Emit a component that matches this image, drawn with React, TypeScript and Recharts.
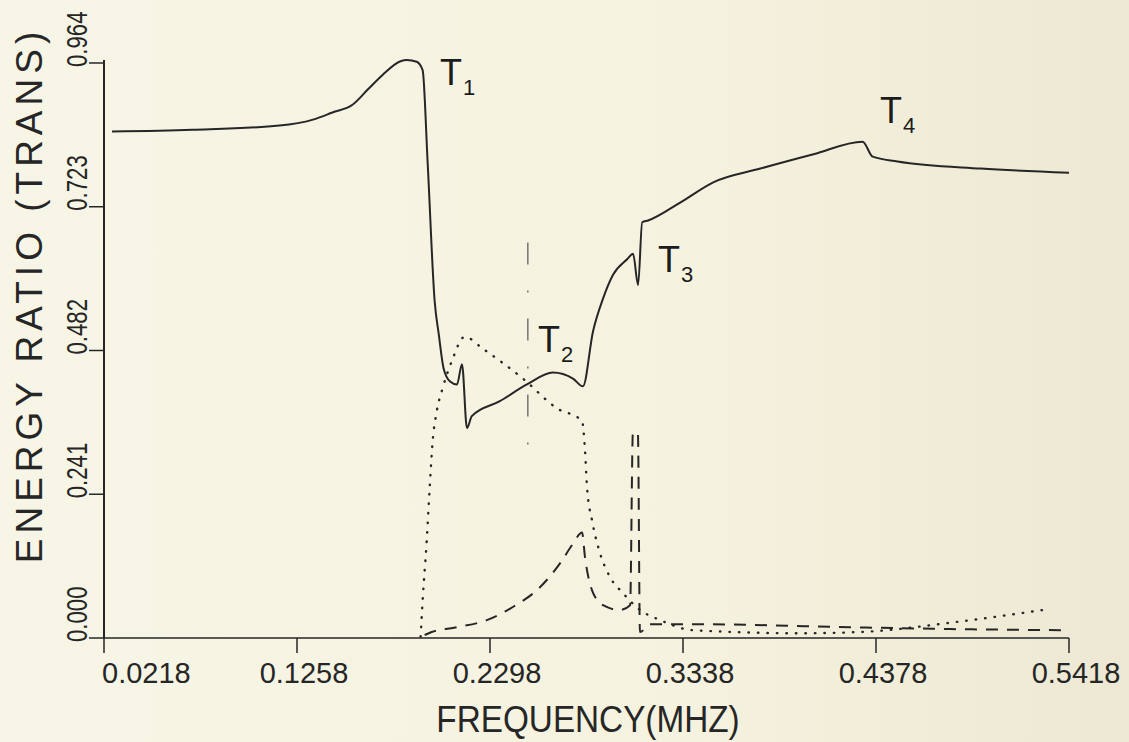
import { LineChart, Line, XAxis, YAxis, ReferenceDot } from 'recharts'

// frequency (MHz) ticks and energy-ratio ticks as printed on the plot
const freqTicks = [0.0218, 0.1258, 0.2298, 0.3338, 0.4378, 0.5418]
const ratioTicks = [0, 0.241, 0.482, 0.723, 0.964]

// transmission (solid)
const transF = [
  0.0261, 0.0693, 0.1163, 0.1344, 0.1449, 0.1557, 0.1638, 0.1719, 0.1816, 0.1849, 0.1903, 0.1935,
  0.1962, 0.2000, 0.2022, 0.2048, 0.2083, 0.2120, 0.2147, 0.2174, 0.2200, 0.2351, 0.2497, 0.2637,
  0.2745, 0.2799, 0.2853, 0.2907, 0.2961, 0.3037, 0.3069, 0.3096, 0.3118, 0.3150, 0.3323, 0.3501,
  0.3755, 0.4041, 0.4306, 0.4360, 0.4494, 0.4943, 0.5418,
]
const transV = [
  0.849, 0.852, 0.859, 0.869, 0.881, 0.894, 0.919, 0.944, 0.967, 0.969, 0.966, 0.952,
  0.797, 0.564, 0.509, 0.452, 0.43, 0.425, 0.459, 0.352, 0.372, 0.397, 0.425, 0.445,
  0.435, 0.422, 0.514, 0.569, 0.609, 0.635, 0.644, 0.592, 0.697, 0.7, 0.73, 0.764,
  0.787, 0.811, 0.832, 0.807, 0.799, 0.787, 0.78,
]

// dotted series
const dotF = [
  0.1924, 0.1935, 0.1957, 0.1973, 0.1989, 0.2011, 0.2043, 0.2092, 0.2162, 0.2259, 0.2475, 0.2659,
  0.2794, 0.2810, 0.2821, 0.2848, 0.2891, 0.2945, 0.3015, 0.3107, 0.3215, 0.3393, 0.3971, 0.4291,
  0.4814, 0.5299,
]
const dotV = [
  0.002, 0.063, 0.163, 0.252, 0.33, 0.38, 0.419, 0.464, 0.505, 0.485, 0.435, 0.385,
  0.364, 0.314, 0.252, 0.197, 0.142, 0.102, 0.075, 0.047, 0.03, 0.013, 0.008, 0.01,
  0.027, 0.048,
]

// dashed series
const dashF = [
  0.1946, 0.1984, 0.2119, 0.2281, 0.2421, 0.2567, 0.2675, 0.2745, 0.2794, 0.2810, 0.2848, 0.2907,
  0.2999, 0.3053, 0.3068, 0.3095, 0.3106, 0.3161, 0.3431, 0.4241, 0.4781, 0.5418,
]
const dashV = [
  0.005, 0.01, 0.018, 0.03, 0.052, 0.085, 0.125, 0.158, 0.177, 0.135, 0.08, 0.055,
  0.047, 0.055, 0.344, 0.344, 0.01, 0.023, 0.023, 0.018, 0.015, 0.013,
]

// thin vertical marker
const markF = [0.2502, 0.2502]
const markV = [0.663, 0.297]

const rows = (fs: number[], vs: number[]) => fs.map((f, i) => ({ f, v: vs[i] }))

const ink = '#262626'
const font = 'Liberation Sans, Arial, sans-serif'

function FreqTick(props: any) {
  const { x, y, payload, index } = props
  const first = index === 0
  return (
    <text
      x={first ? x - 2 : x + 7}
      y={y}
      dy={28}
      textAnchor={first ? 'start' : 'middle'}
      fontFamily={font}
      fontSize={29}
      fill={ink}
    >
      {payload.value.toFixed(4)}
    </text>
  )
}

function RatioTick(props: any) {
  const { x, y, payload } = props
  return (
    <text
      transform={`translate(${x} ${y + 4}) rotate(-90) scale(0.74 1)`}
      textAnchor="start"
      fontFamily={font}
      fontSize={30}
      fill={ink}
    >
      {payload.value.toFixed(3)}
    </text>
  )
}

const xTitle = () => (
  <text
    transform="translate(588 732) scale(0.9 1)"
    textAnchor="middle"
    fontFamily={font}
    fontSize={37}
    fill={ink}
  >
    FREQUENCY(MHZ)
  </text>
)

const yTitle = () => (
  <text
    transform="translate(42 295) rotate(-90)"
    textAnchor="middle"
    fontFamily={font}
    fontSize={37}
    letterSpacing={5}
    fill={ink}
  >
    ENERGY RATIO (TRANS)
  </text>
)

function tag(sub: string) {
  return (p: any) => (
    <text x={p.cx} y={p.cy} fontFamily={font} fontSize={36} fill="#1c1c1c">
      T
      <tspan fontSize={22} dx={1} dy={10}>
        {sub}
      </tspan>
    </text>
  )
}

export default function App() {
  return (
    <div
      style={{
        position: 'fixed',
        top: 0,
        left: 0,
        width: 1129,
        height: 742,
        background: 'linear-gradient(90deg, #f7f5e6 0%, #f5f2df 60%, #ece8d3 100%)',
      }}
    >
      <LineChart width={1129} height={742} margin={{ top: 60, right: 60, bottom: 0, left: 0 }}>
        <XAxis
          type="number"
          dataKey="f"
          domain={[0.0218, 0.5418]}
          ticks={freqTicks}
          height={104}
          tickSize={15}
          tick={<FreqTick />}
          axisLine={{ stroke: ink, strokeWidth: 1.5 }}
          tickLine={{ stroke: ink, strokeWidth: 1.5 }}
          label={{ value: 'FREQUENCY(MHZ)', content: xTitle }}
        />
        <YAxis
          type="number"
          dataKey="v"
          domain={[0, 0.964]}
          ticks={ratioTicks}
          width={104}
          tickSize={15}
          tick={<RatioTick />}
          axisLine={{ stroke: ink, strokeWidth: 2 }}
          tickLine={{ stroke: ink, strokeWidth: 1.5 }}
          label={{ value: 'ENERGY RATIO (TRANS)', content: yTitle }}
        />
        <Line
          data={rows(markF, markV)}
          dataKey="v"
          type="linear"
          stroke="#555"
          strokeWidth={1.2}
          strokeDasharray="22 26 2 26"
          dot={false}
          activeDot={false}
          isAnimationActive={false}
        />
        <Line
          data={rows(dotF, dotV)}
          dataKey="v"
          type="monotone"
          stroke={ink}
          strokeWidth={2.4}
          strokeLinecap="round"
          strokeDasharray="0.5 9"
          dot={false}
          activeDot={false}
          isAnimationActive={false}
        />
        <Line
          data={rows(dashF, dashV)}
          dataKey="v"
          type="monotone"
          stroke={ink}
          strokeWidth={2}
          strokeDasharray="12 9"
          dot={false}
          activeDot={false}
          isAnimationActive={false}
        />
        <Line
          data={rows(transF, transV)}
          dataKey="v"
          type="monotone"
          stroke={ink}
          strokeWidth={2}
          dot={false}
          activeDot={false}
          isAnimationActive={false}
        />
        <ReferenceDot x={0.2028} y={0.927} r={0} shape={tag('1')} />
        <ReferenceDot x={0.2556} y={0.48} r={0} shape={tag('2')} />
        <ReferenceDot x={0.3203} y={0.614} r={0} shape={tag('3')} />
        <ReferenceDot x={0.4399} y={0.864} r={0} shape={tag('4')} />
      </LineChart>
    </div>
  )
}
